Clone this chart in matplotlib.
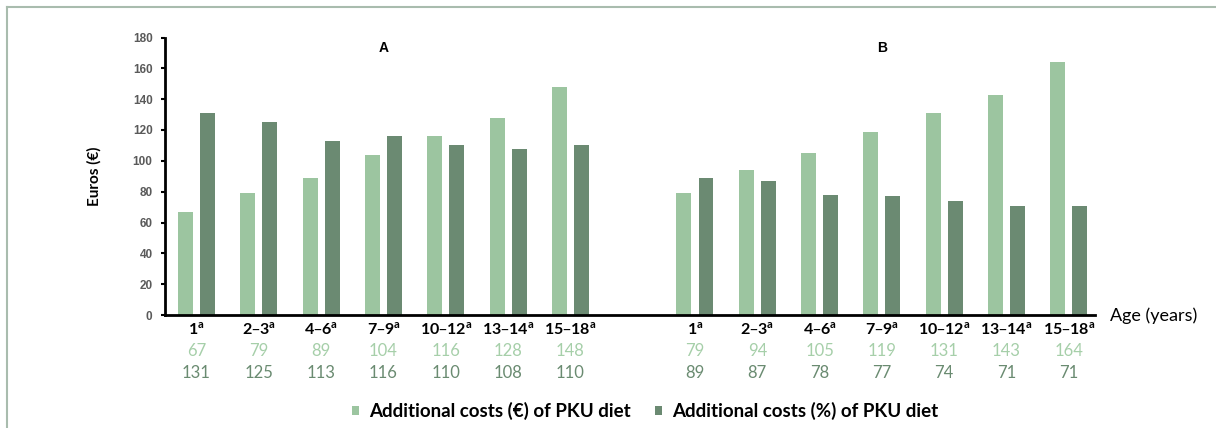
import matplotlib.pyplot as plt
import matplotlib.lines as mlines
import numpy as np

# data
age_groups = ["1", "2–3", "4–6", "7–9", "10–12", "13–14", "15–18"]
cost_eur_A = [67, 79, 89, 104, 116, 128, 148]
cost_pct_A = [131, 125, 113, 116, 110, 108, 110]
cost_eur_B = [79, 94, 105, 119, 131, 143, 164]
cost_pct_B = [89, 87, 78, 77, 74, 71, 71]
panel_names = ["A", "B"]

light = "#9cc5a0"
dark = "#6b8a72"
light_txt = "#a6cfa9"
dark_txt = "#6a8b71"
txt_font = ["Lato", "DejaVu Sans"]
tick_font = ["Liberation Sans", "DejaVu Sans"]

fig = plt.figure(figsize=(12.16, 4.28), dpi=100)
ax = fig.add_axes([165 / 1216, 113 / 428, 930 / 1216, 277.5 / 428])

n = len(age_groups)
pos_A = np.arange(n)
pos_B = np.arange(n) + n + 1
w = 0.24
off = 0.177

ax.bar(pos_A - off, cost_eur_A, w, color=light, label="Additional costs (€) of PKU diet")
ax.bar(pos_A + off, cost_pct_A, w, color=dark, label="Additional costs (%) of PKU diet")
ax.bar(pos_B - off, cost_eur_B, w, color=light)
ax.bar(pos_B + off, cost_pct_B, w, color=dark)

ax.set_xlim(-0.506, 14.42)
ax.set_ylim(0, 180)
ax.set_yticks(np.arange(0, 181, 20))
ax.set_xticks([])
for s in ["top", "right"]:
    ax.spines[s].set_visible(False)
ax.spines["left"].set_linewidth(2)
ax.spines["bottom"].set_linewidth(2)
ax.tick_params(axis="y", length=3, width=1.5, colors="black", labelcolor="#5a5a5a",
               labelsize=8.5, pad=6)
for lab in ax.get_yticklabels():
    lab.set_fontweight("bold")
    lab.set_family(tick_font)

ax.set_ylabel("Euros (€)", fontsize=11, fontweight="bold", family=txt_font, labelpad=22)

# panel letters
for p, name in zip([pos_A, pos_B], panel_names):
    ax.text(p.mean(), 173, name, ha="center", va="center", fontsize=10,
            fontweight="bold", family=tick_font)

# category labels and values under the axis
trans = ax.get_xaxis_transform()
for positions, eur, pct in [(pos_A, cost_eur_A, cost_pct_A), (pos_B, cost_eur_B, cost_pct_B)]:
    for x, g, e, c in zip(positions, age_groups, eur, pct):
        ax.text(x, -0.05, g + "$^{\\mathregular{a}}$", transform=trans, ha="center", va="center",
                fontsize=11.5, fontweight="bold", family=txt_font)
        ax.text(x, -0.13, str(e), transform=trans, ha="center", va="center",
                fontsize=12, color=light_txt, family=txt_font)
        ax.text(x, -0.21, str(c), transform=trans, ha="center", va="center",
                fontsize=12, color=dark_txt, family=txt_font)

fig.text(1110 / 1216, 1 - 316 / 428, "Age (years)", ha="left", va="center",
         fontsize=13, family=txt_font)

handles, labels = ax.get_legend_handles_labels()
fig.legend(handles, labels, loc="center", bbox_to_anchor=(645 / 1216, 1 - 411 / 428),
           ncol=2, frameon=False, handlelength=0.4, handleheight=0.4, handletextpad=0.5,
           columnspacing=1.3, prop={"family": txt_font, "size": 13.5, "weight": "bold"})

# frame lines on top and left
border = "#a9bcae"
fig.add_artist(mlines.Line2D([7 / 1216, 1], [1 - 7 / 428] * 2, color=border, lw=1.5))
fig.add_artist(mlines.Line2D([7 / 1216] * 2, [0, 1 - 7 / 428], color=border, lw=1.5))

fig.savefig("out.png", dpi=100)
